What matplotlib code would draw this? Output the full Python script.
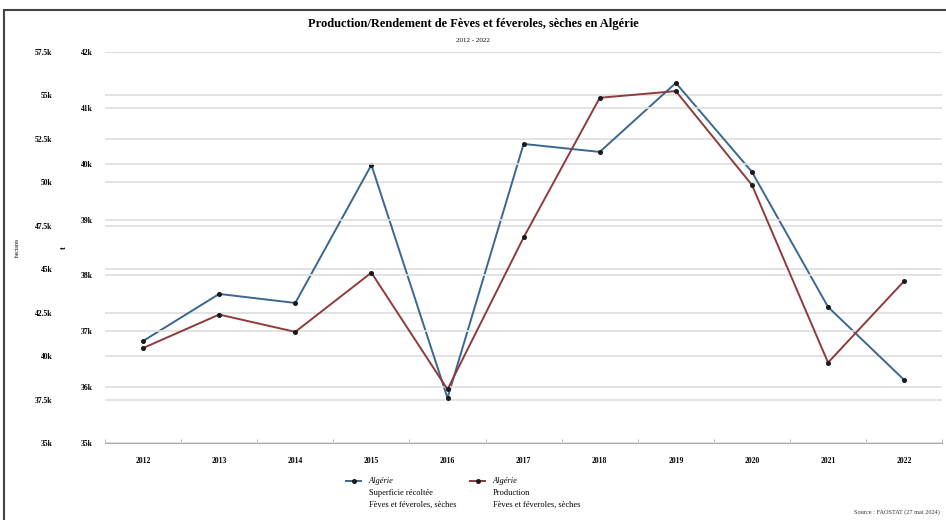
import matplotlib.pyplot as plt
from matplotlib.lines import Line2D
from matplotlib.patches import Rectangle
from matplotlib.ticker import FuncFormatter

plt.rcParams['font.family'] = ['Liberation Serif', 'DejaVu Serif']

# Fèves et féveroles, sèches - Algérie
years = ['2012', '2013', '2014', '2015', '2016', '2017', '2018', '2019', '2020', '2021', '2022']
superficie = [40870, 43580, 43060, 51000, 37590, 52210, 51750, 55720, 50600, 42830, 38630]  # ha
production = [36700, 37300, 36990, 38050, 35960, 38680, 41180, 41300, 39620, 36440, 37900]  # t

area_ticks = [35000, 37500, 40000, 42500, 45000, 47500, 50000, 52500, 55000, 57500]
prod_ticks = [35000, 36000, 37000, 38000, 39000, 40000, 41000, 42000]

blue = '#3a6791'
red = '#8e3b3b'
grid_col = '#dedede'


def kfmt(v, pos):
    s = '{:.1f}'.format(v / 1000).rstrip('0').rstrip('.')
    return s + 'k'


fig = plt.figure(figsize=(9.46, 5.2), dpi=100)
ax = fig.add_axes([0.111, 0.148, 0.885, 0.752])
ax2 = ax.twinx()

x = range(len(years))
ax.plot(x, superficie, color=blue, lw=1.4, marker='o', ms=2.6,
        mfc='#1a1a1a', mec='#1a1a1a', zorder=3)
ax2.plot(x, production, color=red, lw=1.4, marker='o', ms=2.6,
         mfc='#1a1a1a', mec='#1a1a1a', zorder=3)

ax.set_xlim(-0.5, len(years) - 0.5)
ax.set_ylim(area_ticks[0], area_ticks[-1])
ax2.set_ylim(prod_ticks[0], prod_ticks[-1])

ax.set_yticks(area_ticks)
ax2.set_yticks(prod_ticks)
ax.yaxis.set_major_formatter(FuncFormatter(kfmt))
ax2.yaxis.set_major_formatter(FuncFormatter(kfmt))

# both value scales sit on the left side
ax2.yaxis.set_ticks_position('left')
ax2.yaxis.set_label_position('left')
ax.tick_params(axis='y', length=0, pad=38, labelsize=5.5)
ax2.tick_params(axis='y', length=0, pad=9, labelsize=5.5)

ax.grid(axis='y', color=grid_col, lw=1.2)
ax2.grid(axis='y', color=grid_col, lw=1.2)
ax.set_axisbelow(True)
ax2.set_zorder(ax.get_zorder() + 1)
ax2.patch.set_visible(False)

ax.set_xticks(list(x))
ax.set_xticklabels(years)
ax.set_xticks([i - 0.5 for i in range(len(years) + 1)], minor=True)
ax.tick_params(axis='x', which='major', length=0, pad=10, labelsize=5.5)
ax.tick_params(axis='x', which='minor', length=3, direction='in', color='#aaaaaa')

for lbl in ax.get_xticklabels() + ax.get_yticklabels() + ax2.get_yticklabels():
    lbl.set_fontweight('bold')

for a in (ax, ax2):
    for side in ('top', 'right', 'left'):
        a.spines[side].set_visible(False)
    a.spines['bottom'].set_color('#aaaaaa')
ax2.spines['bottom'].set_visible(False)

ax.set_ylabel('hectares', fontsize=4)
ax.yaxis.set_label_coords(-0.102, 0.5)
ax2.set_ylabel('t', fontsize=6, fontweight='bold')
ax2.yaxis.set_label_coords(-0.044, 0.5)

fig.text(0.5, 0.953, 'Production/Rendement de Fèves et féveroles, sèches en Algérie',
         ha='center', va='center', fontsize=9, fontweight='bold')
fig.text(0.5, 0.922, '2012 - 2022', ha='center', va='center', fontsize=5)

# legend below the chart
entries = [
    (blue, 0.366, ['Algérie', 'Superficie récoltée', 'Fèves et féveroles, sèches']),
    (red, 0.497, ['Algérie', 'Production', 'Fèves et féveroles, sèches']),
]
for col, lx, lines in entries:
    ly = 1 - 481 / 520
    fig.add_artist(Line2D([lx, lx + 0.016], [ly, ly], color=col, lw=1.4,
                          transform=fig.transFigure))
    fig.add_artist(Line2D([lx + 0.008], [ly], color='#1a1a1a', marker='o', ms=2.6,
                          lw=0, transform=fig.transFigure))
    for k, t in enumerate(lines):
        fig.text(lx + 0.024, ly - k * 0.023, t, ha='left', va='center',
                 fontsize=6, style='italic' if k == 0 else 'normal')

fig.text(0.994, 1 - 512 / 520, 'Source : FAOSTAT (27 mai 2024)', ha='right', va='center',
         fontsize=4.5, color='#333333')

# outer frame
fig.add_artist(Rectangle((0.004, -0.05), 1.2, 0.03 + 1.0, fill=False,
                         edgecolor='#444444', lw=1.5, transform=fig.transFigure))

fig.savefig('out.png', dpi=100)
